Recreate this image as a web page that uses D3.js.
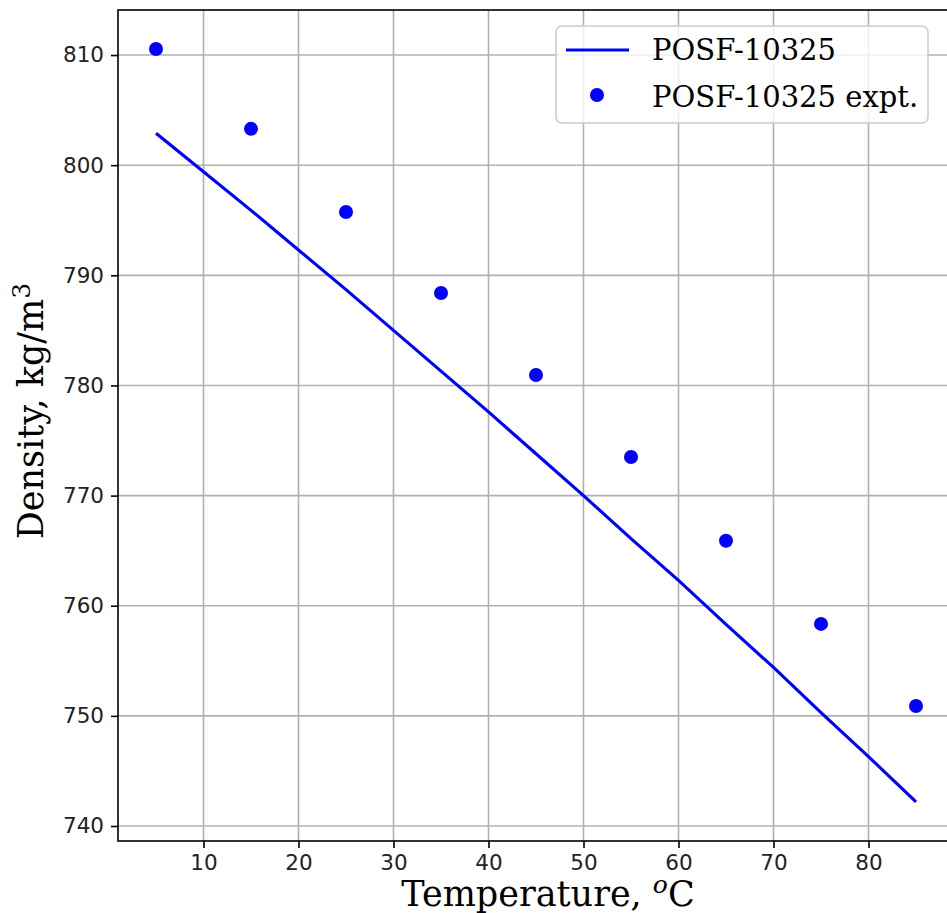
<!DOCTYPE html>
<meta charset="utf-8">
<script src="https://d3js.org/d3.v7.min.js"></script>
<style>
  body { margin: 0; background: #fff; }
  svg { display: block; }
</style>
<div id="my_dataviz"></div>
<script>
// data
const lineTemp = [5, 10, 15, 20, 25, 30, 35, 40, 45, 50, 55, 60, 65, 70, 75, 80, 85];
const lineDensity = [802.9, 799.4, 795.9, 792.3, 788.7, 785.0, 781.3, 777.6, 773.8,
                     770.0, 766.1, 762.3, 758.3, 754.4, 750.3, 746.3, 742.2];
const exptTemp = [5, 15, 25, 35, 45, 55, 65, 75, 85];
const exptDensity = [810.55, 803.3, 795.75, 788.4, 780.95, 773.5, 765.9, 758.35, 750.9];
const xTicks = [10, 20, 30, 40, 50, 60, 70, 80];
const yTicks = [740, 750, 760, 770, 780, 790, 800, 810];
const seriesNames = ["POSF-10325", "POSF-10325 expt."];

let W = 947, H = 913;
let margin = {top: 10, left: 118},
    width = 836,   // the right part falls outside the picture, as in the original
    height = 831;

let svg = d3.select("#my_dataviz")
  .append("svg")
    .attr("width", W)
    .attr("height", H);

let g = svg.append("g")
    .attr("transform", "translate(" + margin.left + "," + margin.top + ")");

let x = d3.scaleLinear().domain([1, 89]).range([0, width]);
let y = d3.scaleLinear().domain([738.64, 814.09]).range([height, 0]);

let tickFont = "'DejaVu Sans', sans-serif";
let labelFont = "'DejaVu Serif', serif";

// grid
g.append("g").selectAll("line").data(xTicks).enter().append("line")
    .attr("x1", d => x(d)).attr("x2", d => x(d))
    .attr("y1", 0).attr("y2", height)
    .style("stroke", "#b0b0b0").style("stroke-width", 1.6);
g.append("g").selectAll("line").data(yTicks).enter().append("line")
    .attr("x1", 0).attr("x2", width)
    .attr("y1", d => y(d)).attr("y2", d => y(d))
    .style("stroke", "#b0b0b0").style("stroke-width", 1.6);

// axes
let xAxis = g.append("g")
    .attr("transform", "translate(0," + height + ")")
    .call(d3.axisBottom(x).tickValues(xTicks).tickSize(7).tickPadding(7).tickFormat(d3.format("d")));
let yAxis = g.append("g")
    .call(d3.axisLeft(y).tickValues(yTicks).tickSize(7).tickPadding(7).tickFormat(d3.format("d")));
[xAxis, yAxis].forEach(a => {
  a.select(".domain").remove();
  a.selectAll("line").style("stroke", "#000").style("stroke-width", 1.6);
  a.selectAll("text").style("font-family", tickFont).style("font-size", "21.5px").style("fill", "#222");
});

// spines
g.append("rect")
    .attr("x", 0).attr("y", 0).attr("width", width).attr("height", height)
    .style("fill", "none").style("stroke", "#000").style("stroke-width", 1.6);

// model line
let line = d3.line()
    .x((d, i) => x(lineTemp[i]))
    .y(d => y(d));
g.append("path")
    .datum(lineDensity)
    .attr("d", line)
    .style("fill", "none")
    .style("stroke", "#0000ff")
    .style("stroke-width", 3.1);

// experimental points
g.selectAll("circle.expt")
    .data(exptDensity)
  .enter()
  .append("circle")
    .attr("class", "expt")
    .attr("cx", (d, i) => x(exptTemp[i]))
    .attr("cy", d => y(d))
    .attr("r", 7)
    .style("fill", "#0000ff");

// axis labels
let xl = svg.append("text")
    .attr("x", 548)
    .attr("y", 906)
    .attr("text-anchor", "middle")
    .style("font-family", labelFont)
    .style("font-size", "35px")
    .style("fill", "#000");
xl.append("tspan").text("Temperature, ");
xl.append("tspan").text("o").attr("dy", -13).style("font-size", "25px").style("font-style", "italic");
xl.append("tspan").text("C").attr("dy", 13);

let yl = svg.append("text")
    .attr("transform", "translate(43,411) rotate(-90)")
    .attr("text-anchor", "middle")
    .style("font-family", labelFont)
    .style("font-size", "35px")
    .style("fill", "#000");
yl.append("tspan").text("Density, kg/m");
yl.append("tspan").text("3").attr("dy", -13).style("font-size", "25px");

// legend
let lg = svg.append("g");
lg.append("rect")
    .attr("x", 556).attr("y", 26).attr("width", 372).attr("height", 97).attr("rx", 6)
    .style("fill", "#fff").style("fill-opacity", 0.8)
    .style("stroke", "#cccccc").style("stroke-width", 1.6);
lg.append("line")
    .attr("x1", 566).attr("x2", 629).attr("y1", 50).attr("y2", 50)
    .style("stroke", "#0000ff").style("stroke-width", 3.1);
lg.append("circle")
    .attr("cx", 597).attr("cy", 95).attr("r", 7)
    .style("fill", "#0000ff");
lg.selectAll("text")
    .data(seriesNames)
  .enter()
  .append("text")
    .attr("x", 652)
    .attr("y", (d, i) => 60 + i * 47)
    .style("font-family", labelFont)
    .style("font-size", "29px")
    .style("fill", "#000")
    .text(d => d);
</script>
